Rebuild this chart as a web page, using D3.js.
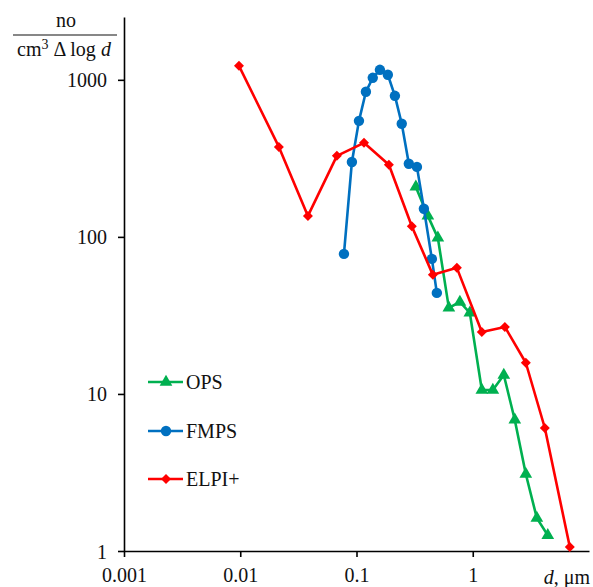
<!DOCTYPE html>
<html>
<head>
<meta charset="utf-8">
<script src="https://cdn.jsdelivr.net/npm/d3@7"></script>
<style>
  html, body { margin: 0; padding: 0; background: #fff; }
  svg { display: block; font-family: "Liberation Serif", "Times New Roman", serif; }
</style>
</head>
<body>
<div id="chart"></div>
<script>
// 데이터 — 그림에서 읽은 값
const opsD   = [0.324, 0.411, 0.501, 0.623, 0.775, 0.944, 1.197, 1.489, 1.85, 2.30, 2.86, 3.56, 4.42];
const opsN   = [208, 136, 98.6, 35.3, 38.5, 32.8, 10.6, 10.6, 13.2, 6.83, 3.09, 1.62, 1.26];
const fmpsD  = [0.078, 0.0913, 0.105, 0.1205, 0.138, 0.159, 0.186, 0.214, 0.245, 0.282, 0.331, 0.380, 0.445, 0.491];
const fmpsN  = [78, 300, 548, 839, 1030, 1158, 1077, 791, 525, 292, 279, 151, 72.4, 44];
const elpiD  = [0.00975, 0.0215, 0.0382, 0.0678, 0.116, 0.190, 0.299, 0.454, 0.730, 1.197, 1.89, 2.86, 4.17, 6.84];
const elpiN  = [1228, 374, 136, 328, 397, 288, 117, 57.3, 63.5, 24.8, 26.7, 15.8, 6.07, 1.06];
const xTicks = [0.001, 0.01, 0.1, 1];
const xTickLabels = ['0.001', '0.01', '0.1', '1'];
const yTicks = [1, 10, 100, 1000];
const seriesNames = ['OPS', 'FMPS', 'ELPI+'];

const W = 593, H = 587;
const FS = 20;
const svg = d3.select('#chart').append('svg').attr('width', W).attr('height', H);

const x = d3.scaleLog().domain([0.001, 10]).range([124, 589]);
const y = d3.scaleLog().domain([1, 2512]).range([551, 17]);

// 축
const yAxis = svg.append('g').attr('transform', `translate(${x(0.001)},0)`)
  .call(d3.axisLeft(y).tickValues(yTicks).tickFormat(d3.format('d')).tickSize(6).tickSizeOuter(0).tickPadding(11));
const xAxis = svg.append('g').attr('transform', `translate(0,${y(1)})`)
  .call(d3.axisBottom(x).tickValues(xTicks).tickFormat((d, i) => xTickLabels[i]).tickSize(6).tickSizeOuter(0).tickPadding(11));
[yAxis, xAxis].forEach(a => {
  a.selectAll('path.domain').attr('stroke', '#000').attr('stroke-width', 1.6);
  a.selectAll('line').attr('stroke', '#000').attr('stroke-width', 1.6);
  a.selectAll('text').attr('font-family', '"Liberation Serif", serif').attr('font-size', FS).attr('fill', '#111');
});
yAxis.selectAll('text').attr('dy', '0.35em');

// 축 제목
const xl = svg.append('text').attr('x', 590).attr('y', 584).attr('text-anchor', 'end')
  .attr('font-size', FS).attr('fill', '#111');
xl.append('tspan').attr('font-style', 'italic').text('d');
xl.append('tspan').text(', μm');

svg.append('text').attr('x', 66).attr('y', 27).attr('text-anchor', 'middle')
  .attr('font-size', FS).attr('fill', '#111').text('no');
svg.append('line').attr('x1', 13).attr('x2', 117).attr('y1', 35).attr('y2', 35)
  .attr('stroke', '#111').attr('stroke-width', 1.2);
const yl = svg.append('text').attr('x', 64).attr('y', 56).attr('text-anchor', 'middle')
  .attr('font-size', FS).attr('fill', '#111');
yl.append('tspan').text('cm');
yl.append('tspan').attr('font-size', 14).attr('dy', -7).text('3');
yl.append('tspan').attr('dy', 7).text(' Δ log ');
yl.append('tspan').attr('font-style', 'italic').text('d');

// 마커
const diamond = s => `M0,${-s}L${s},0L0,${s}L${-s},0Z`;
const series = [
  { name: seriesNames[0], d: opsD, n: opsN, color: '#00B050', mark: d3.symbol(d3.symbolTriangle, 70)() },
  { name: seriesNames[1], d: fmpsD, n: fmpsN, color: '#0070C0', mark: d3.symbol(d3.symbolCircle, 85)() },
  { name: seriesNames[2], d: elpiD, n: elpiN, color: '#FF0000', mark: diamond(5) },
];

const line = d3.line().x(p => x(p[0])).y(p => y(p[1]));
series.forEach(s => {
  const pts = s.d.map((v, i) => [v, s.n[i]]);
  const g = svg.append('g');
  g.append('path').attr('d', line(pts)).attr('fill', 'none')
    .attr('stroke', s.color).attr('stroke-width', 2.6).attr('stroke-linejoin', 'round');
  g.selectAll('path.m').data(pts).join('path').attr('class', 'm')
    .attr('d', s.mark).attr('fill', s.color)
    .attr('transform', p => `translate(${x(p[0])},${y(p[1])})`);
});

// 범례
const legY = [382, 431, 479];
series.forEach((s, i) => {
  const g = svg.append('g').attr('transform', `translate(148,${legY[i]})`);
  g.append('line').attr('x1', 0).attr('x2', 35).attr('stroke', s.color).attr('stroke-width', 2.6);
  g.append('path').attr('d', s.mark).attr('fill', s.color).attr('transform', 'translate(18,0)');
  g.append('text').attr('x', 38).attr('dy', '0.35em').attr('font-size', FS).attr('fill', '#111').text(s.name);
});
</script>
</body>
</html>
